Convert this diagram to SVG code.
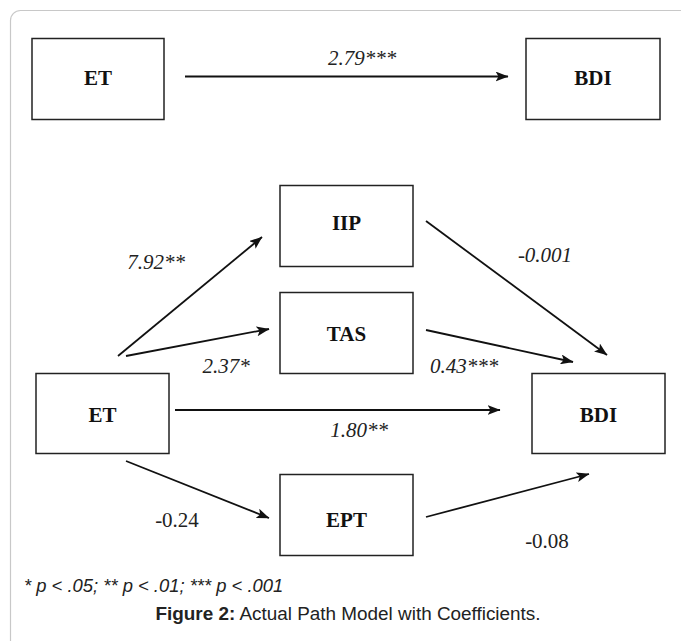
<svg xmlns="http://www.w3.org/2000/svg" width="681" height="641" viewBox="0 0 681 641">
<style>
.box{fill:#fff;stroke:#222;stroke-width:1.5}
.lbl{font-family:"Liberation Serif","Times New Roman",serif;font-weight:bold;font-size:21px;text-anchor:middle;fill:#111}
.coef{font-family:"Liberation Serif","Times New Roman",serif;font-style:italic;font-size:21px;fill:#222}
.coefu{font-family:"Liberation Serif","Times New Roman",serif;font-size:21px;fill:#222}
.edge{stroke:#111;stroke-width:1.8;fill:none;marker-end:url(#ah)}
.note{font-family:"Liberation Sans",Arial,sans-serif;fill:#222}
</style>
<defs>
<marker id="ah" markerUnits="userSpaceOnUse" markerWidth="13" markerHeight="10" viewBox="0 0 13 10" refX="12.5" refY="5" orient="auto">
<path d="M0,0 L13,5 L0,10 L3,5 z" fill="#111"/>
</marker>
</defs>
<rect x="10.5" y="10.5" width="720" height="700" rx="10" ry="10" fill="#fff" stroke="#c8c8c8" stroke-width="1.2"/>

<g id="connectors">
<line class="edge" x1="185" y1="76.5" x2="508" y2="76.5"/>
<line class="edge" x1="118" y1="356" x2="262" y2="237"/>
<line class="edge" x1="126" y1="356" x2="269" y2="329"/>
<line class="edge" x1="426" y1="221" x2="607" y2="355"/>
<line class="edge" x1="426" y1="330" x2="573" y2="362"/>
<line class="edge" x1="175" y1="410" x2="500" y2="410"/>
<line class="edge" x1="126" y1="461" x2="269" y2="518"/>
<line class="edge" x1="426" y1="517" x2="589" y2="474"/>
<text class="coef" x="362" y="65" text-anchor="middle">2.79***</text>
<text class="coef" x="156" y="269" text-anchor="middle">7.92**</text>
<text class="coef" x="545" y="262" text-anchor="middle">-0.001</text>
<text class="coef" x="226" y="373" text-anchor="middle">2.37*</text>
<text class="coef" x="464" y="373" text-anchor="middle">0.43***</text>
<text class="coef" x="359" y="437" text-anchor="middle">1.80**</text>
<text class="coefu" x="177" y="527" text-anchor="middle">-0.24</text>
<text class="coefu" x="547" y="548" text-anchor="middle">-0.08</text>
</g>

<g id="node-et-top"><rect class="box" x="32" y="38.5" width="132" height="81"/><text class="lbl" x="98" y="85">ET</text></g>
<g id="node-bdi-top"><rect class="box" x="526" y="38.5" width="134" height="81"/><text class="lbl" x="593" y="85">BDI</text></g>
<g id="node-iip"><rect class="box" x="280" y="185.5" width="133" height="81"/><text class="lbl" x="346.5" y="230">IIP</text></g>
<g id="node-tas"><rect class="box" x="280" y="292.5" width="133" height="81"/><text class="lbl" x="346.5" y="341">TAS</text></g>
<g id="node-et"><rect class="box" x="36" y="373.5" width="133" height="80"/><text class="lbl" x="102.5" y="422">ET</text></g>
<g id="node-bdi"><rect class="box" x="532" y="373.5" width="133" height="80"/><text class="lbl" x="598.5" y="422">BDI</text></g>
<g id="node-ept"><rect class="box" x="280" y="474.5" width="133" height="81"/><text class="lbl" x="346.5" y="527">EPT</text></g>

<text class="note" x="24" y="592" font-size="18.4" font-style="italic">* p &lt; .05; ** p &lt; .01; *** p &lt; .001</text>
<text class="note" x="348" y="620" font-size="18.9" text-anchor="middle"><tspan font-weight="bold">Figure 2:</tspan> Actual Path Model with Coefficients.</text>
</svg>
